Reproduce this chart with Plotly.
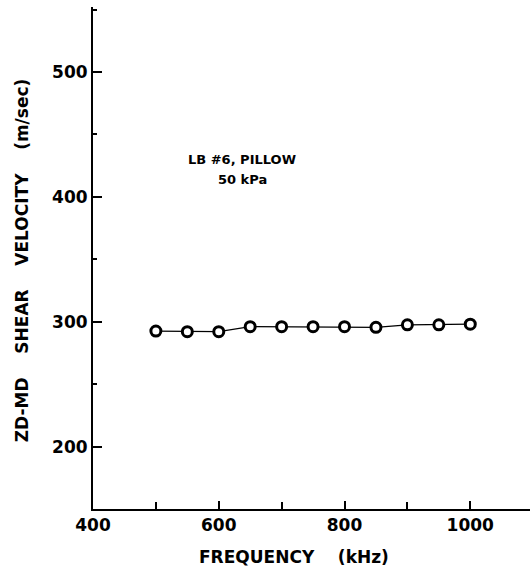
import plotly.graph_objects as go

frequency_khz = [500, 550, 600, 650, 700, 750, 800, 850, 900, 950, 1000]
velocity_ms = [292.5, 292, 292, 296, 296, 296, 296, 295.5, 297.5, 297.5, 298]

x_tickvals = [400, 600, 800, 1000]
y_tickvals = [200, 300, 400, 500]

FONT = "DejaVu Sans"

fig = go.Figure()
fig.add_trace(go.Scatter(
    x=frequency_khz, y=velocity_ms, mode="lines+markers",
    line=dict(color="black", width=1.2),
    marker=dict(symbol="circle", size=10, color="white",
                line=dict(color="black", width=3)),
    showlegend=False, cliponaxis=False,
))

fig.update_layout(
    width=530, height=567,
    margin=dict(l=93, r=0, t=7, b=58),
    paper_bgcolor="white", plot_bgcolor="white",
    font=dict(family=FONT, color="black"),
)
fig.update_xaxes(
    range=[400, 1095], tickvals=x_tickvals, ticktext=[str(v) for v in x_tickvals],
    ticks="inside", ticklen=8, tickwidth=1.5, tickcolor="black",
    minor=dict(tickvals=[500, 700, 900], ticks="inside", ticklen=7, tickwidth=1.5, tickcolor="black"),
    showline=True, linecolor="black", linewidth=2, showgrid=False, zeroline=False,
    tickfont=dict(family=FONT, size=17, weight="bold"),
)
fig.update_yaxes(
    range=[150, 552], tickvals=y_tickvals, ticktext=[str(v) for v in y_tickvals],
    ticks="inside", ticklen=9, tickwidth=1.5, tickcolor="black",
    minor=dict(tickvals=[250, 350, 450, 550], ticks="inside", ticklen=4, tickwidth=1.5, tickcolor="black"),
    showline=True, linecolor="black", linewidth=2, showgrid=False, zeroline=False,
    tickfont=dict(family=FONT, size=17, weight="bold"),
)

nb = "\u00a0"
fig.add_annotation(
    text=f"ZD-MD{nb*4}SHEAR{nb*4}VELOCITY{nb*4}(m/sec)",
    xref="paper", yref="paper", x=-0.162, y=0.496, textangle=-90,
    showarrow=False, xanchor="center", yanchor="middle",
    font=dict(family=FONT, size=17, weight="bold"),
)
fig.add_annotation(
    text=f"FREQUENCY{nb*4}(kHz)",
    xref="paper", yref="paper", x=0.46, y=-0.096,
    showarrow=False, xanchor="center", yanchor="middle",
    font=dict(family=FONT, size=17, weight="bold"),
)
fig.add_annotation(
    text="LB #6, PILLOW",
    x=637, y=429.6, showarrow=False, xanchor="center", yanchor="middle",
    font=dict(family=FONT, size=13, weight="bold"),
)
fig.add_annotation(
    text="50 kPa",
    x=637, y=413.6, showarrow=False, xanchor="center", yanchor="middle",
    font=dict(family=FONT, size=13, weight="bold"),
)

fig.write_html("out.html")
